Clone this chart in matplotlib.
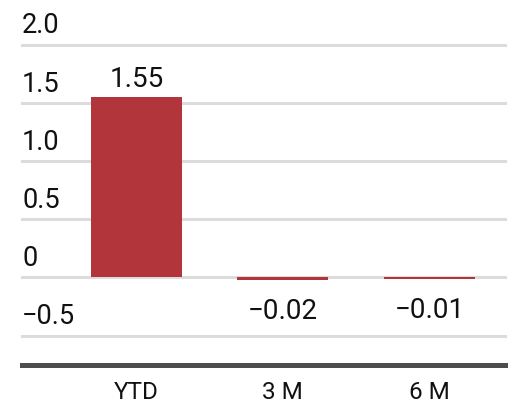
import matplotlib.pyplot as plt
import matplotlib.transforms as mtransforms
import numpy as np

plt.rcParams['font.family'] = ['Roboto', 'DejaVu Sans']

categories = ['YTD', '3 M', '6 M']
values = [1.55, -0.02, -0.01]
value_labels = ['1.55', '\u22120.02', '\u22120.01']
y_ticks = [2.0, 1.5, 1.0, 0.5, 0, -0.5]
y_tick_labels = ['2.0', '1.5', '1.0', '0.5', '0', '\u22120.5']

bar_color = '#b3353c'
grid_color = '#dcdcdc'

W, H = 515, 407
fig = plt.figure(figsize=(W / 100, H / 100), dpi=100)
ax = fig.add_axes([22 / W, (H - 364.6) / H, (505 - 22) / W, (364.6 - 45) / H])

x = np.arange(len(categories))
ax.set_xlim(-0.78, 2.515)
ax.set_ylim(-0.75, 2.0)

# grilla horizontal
for t in y_ticks:
    ax.axhline(t, color=grid_color, linewidth=2.2, zorder=1, clip_on=False)

ax.bar(x, values, width=0.62, color=bar_color, zorder=2)

# etiquetas del eje y encima de cada linea
trans = mtransforms.blended_transform_factory(ax.transAxes, ax.transData)
for t, lab in zip(y_ticks, y_tick_labels):
    ax.annotate(lab, xy=(0, t), xycoords=trans, xytext=(0, 4), textcoords='offset points',
                ha='left', va='bottom', fontsize=19.5, color='#111111')

# valores de las barras
for xi, v, lab in zip(x, values, value_labels):
    if v >= 0:
        ax.annotate(lab, xy=(xi, v), xytext=(0, 3), textcoords='offset points',
                    ha='center', va='bottom', fontsize=20, color='#111111')
    else:
        ax.annotate(lab, xy=(xi, v), xytext=(0, -13), textcoords='offset points',
                    ha='center', va='top', fontsize=20, color='#111111')

ax.set_xticks(x)
ax.set_xticklabels(categories, fontsize=17.5, color='#111111')
ax.tick_params(axis='x', length=0, pad=12)
ax.set_yticks([])

for s in ['top', 'right', 'left']:
    ax.spines[s].set_visible(False)
ax.spines['bottom'].set_color('#4d4d4d')
ax.spines['bottom'].set_linewidth(3.6)
ax.spines['bottom'].set_zorder(3)

fig.savefig('out.png', dpi=100)
